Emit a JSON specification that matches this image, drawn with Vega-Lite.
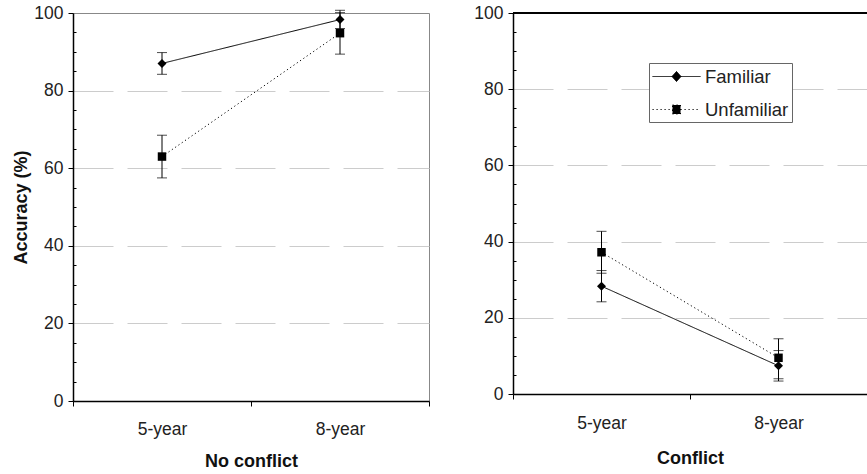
{
  "$schema": "https://vega.github.io/schema/vega-lite/v6.json",
  "padding": {"left": 12, "top": 3, "right": 0, "bottom": 0},
  "background": "white",
  "config": {
    "font": "Liberation Sans",
    "view": {"stroke": null},
    "axis": {"labelFont": "Liberation Sans", "titleFont": "Liberation Sans", "domainWidth": 1.5, "domainColor": "black", "tickColor": "black", "labelColor": "#222", "titleColor": "#111"}
  },
  "datasets": {
    "acc": [
      {"panel": "No conflict", "age": "5-year", "cond": "Familiar", "acc": 87.0, "lo": 84.2, "hi": 89.8},
      {"panel": "No conflict", "age": "8-year", "cond": "Familiar", "acc": 98.3, "lo": 96.0, "hi": 100.7},
      {"panel": "No conflict", "age": "5-year", "cond": "Unfamiliar", "acc": 63.0, "lo": 57.5, "hi": 68.5},
      {"panel": "No conflict", "age": "8-year", "cond": "Unfamiliar", "acc": 94.8, "lo": 89.4, "hi": 100.1},
      {"panel": "Conflict", "age": "5-year", "cond": "Familiar", "acc": 28.3, "lo": 24.2, "hi": 32.4},
      {"panel": "Conflict", "age": "8-year", "cond": "Familiar", "acc": 7.4, "lo": 3.4, "hi": 11.4},
      {"panel": "Conflict", "age": "5-year", "cond": "Unfamiliar", "acc": 37.2, "lo": 31.7, "hi": 42.7},
      {"panel": "Conflict", "age": "8-year", "cond": "Unfamiliar", "acc": 9.5, "lo": 4.0, "hi": 14.5}
    ]
  },
  "spacing": 43,
  "resolve": {"legend": {"strokeDash": "independent"}, "scale": {"y": "independent", "x": "independent"}},
  "hconcat": [
    {
      "width": 356,
      "height": 388,
      "view": {"stroke": "#888", "strokeWidth": 1},
      "data": {"name": "acc"},
      "transform": [{"filter": "datum.panel === 'No conflict'"}],
      "resolve": {"axis": {"x": "independent", "y": "independent"}},
      "encoding": {
        "x": {"field": "age", "type": "nominal", "scale": {"type": "band", "paddingInner": 0, "paddingOuter": 0}, "axis": null},
        "y": {"field": "acc", "type": "quantitative", "scale": {"domain": [0, 100], "nice": false}, "axis": null}
      },
      "layer": [
        {"mark": {"type": "rule", "color": "black", "strokeWidth": 1}, "encoding": {
          "x": {"field": "age", "type": "nominal", "scale": {"type": "band", "paddingInner": 0, "paddingOuter": 0},
            "axis": {"orient": "bottom", "title": "No conflict", "tickBand": "extent", "labelAngle": 0, "labelFontSize": 17.5, "labelPadding": 14, "titleFontSize": 18, "titleFontWeight": "bold", "titlePadding": 15, "tickSize": 5, "grid": false}},
          "y": {"field": "lo", "type": "quantitative", "scale": {"domain": [0, 100], "nice": false},
            "axis": {"orient": "left", "title": "Accuracy (%)", "values": [0,5,10,15,20,25,30,35,40,45,50,55,60,65,70,75,80,85,90,95,100],
              "labelExpr": "datum.value % 20 === 0 ? datum.label : ''",
              "tickSize": {"condition": {"test": "datum.value % 20 === 0", "value": 5}, "value": -3},
              "labelPadding": 5, "labelFontSize": 17.5, "titleFontSize": 18, "titleFontWeight": "bold", "titlePadding": 3,
              "grid": true, "gridDash": [40, 14], "gridColor": "#cccccc",
              "gridOpacity": {"condition": {"test": "datum.value % 20 === 0 && datum.value > 0 && datum.value < 100", "value": 1}, "value": 0}}},
          "y2": {"field": "hi"}, "detail": {"field": "cond", "type": "nominal"}}},
        {"mark": {"type": "tick", "orient": "horizontal", "size": 10, "thickness": 1, "color": "black"}, "encoding": {"y": {"field": "lo", "type": "quantitative", "axis": null}, "detail": {"field": "cond", "type": "nominal"}}},
        {"mark": {"type": "tick", "orient": "horizontal", "size": 10, "thickness": 1, "color": "black"}, "encoding": {"y": {"field": "hi", "type": "quantitative", "axis": null}, "detail": {"field": "cond", "type": "nominal"}}},
        {"mark": {"type": "line", "color": "black", "strokeWidth": 1}, "encoding": {"strokeDash": {"field": "cond", "type": "nominal", "scale": {"domain": ["Familiar", "Unfamiliar"], "range": [[1, 0], [1.2, 2.8]]}, "legend": null}}},
        {"transform": [{"filter": "datum.cond === 'Familiar'"}], "mark": {"type": "point", "shape": "diamond", "filled": true, "color": "black", "opacity": 1, "size": 80}},
        {"transform": [{"filter": "datum.cond === 'Unfamiliar'"}], "mark": {"type": "point", "shape": "square", "filled": true, "color": "black", "opacity": 1, "size": 72}}
      ]
    },
    {
      "width": 354,
      "height": 381,
      "data": {"name": "acc"},
      "transform": [{"filter": "datum.panel === 'Conflict'"}],
      "resolve": {"axis": {"x": "independent", "y": "independent"}},
      "encoding": {
        "x": {"field": "age", "type": "nominal", "scale": {"type": "band", "paddingInner": 0, "paddingOuter": 0}, "axis": null},
        "y": {"field": "acc", "type": "quantitative", "scale": {"domain": [0, 100], "nice": false}, "axis": null}
      },
      "layer": [
        {"mark": {"type": "rule", "color": "black", "strokeWidth": 1.5}, "encoding": {"x": {"value": 0}, "x2": {"value": 354}, "y": {"datum": 100, "type": "quantitative", "axis": null}}},
        {"mark": {"type": "rule", "color": "black", "strokeWidth": 1}, "encoding": {
          "x": {"field": "age", "type": "nominal", "scale": {"type": "band", "paddingInner": 0, "paddingOuter": 0},
            "axis": {"orient": "bottom", "title": "Conflict", "tickBand": "extent", "labelAngle": 0, "labelFontSize": 17.5, "labelPadding": 15, "titleFontSize": 18, "titleFontWeight": "bold", "titlePadding": 18, "tickSize": 5, "grid": false}},
          "y": {"field": "lo", "type": "quantitative", "scale": {"domain": [0, 100], "nice": false},
            "axis": {"orient": "left", "title": null, "values": [0,5,10,15,20,25,30,35,40,45,50,55,60,65,70,75,80,85,90,95,100],
              "labelExpr": "datum.value % 20 === 0 ? datum.label : ''",
              "tickSize": {"condition": {"test": "datum.value % 20 === 0", "value": 5}, "value": -3},
              "labelPadding": 5, "labelFontSize": 17.5,
              "grid": true, "gridDash": [40, 14], "gridColor": "#cccccc",
              "gridOpacity": {"condition": {"test": "datum.value % 20 === 0 && datum.value > 0 && datum.value < 100", "value": 1}, "value": 0}}},
          "y2": {"field": "hi"}, "detail": {"field": "cond", "type": "nominal"}}},
        {"mark": {"type": "tick", "orient": "horizontal", "size": 10, "thickness": 1, "color": "black"}, "encoding": {"y": {"field": "lo", "type": "quantitative", "axis": null}, "detail": {"field": "cond", "type": "nominal"}}},
        {"mark": {"type": "tick", "orient": "horizontal", "size": 10, "thickness": 1, "color": "black"}, "encoding": {"y": {"field": "hi", "type": "quantitative", "axis": null}, "detail": {"field": "cond", "type": "nominal"}}},
        {"mark": {"type": "line", "color": "black", "strokeWidth": 1}, "encoding": {
          "strokeDash": {"field": "cond", "type": "nominal", "scale": {"domain": ["Familiar", "Unfamiliar"], "range": [[1, 0], [1.2, 2.8]]},
          "legend": {"title": null, "orient": "none", "legendX": 136, "legendY": 50, "padding": 3, "strokeColor": "#666", "fillColor": "white", "cornerRadius": 0,
            "labelFontSize": 18.5, "labelFont": "Liberation Sans", "labelColor": "#222", "labelOffset": 18, "symbolOffset": 14,
            "symbolSize": 400, "symbolStrokeWidth": 1, "symbolStrokeColor": "black", "symbolFillColor": "black", "rowPadding": 13,
            "encode": {"symbols": {"update": {"shape": {"signal": "datum.value === 'Familiar' ? 'M-2.4,0L2.4,0M0,-0.5L0.45,0L0,0.5L-0.45,0Z' : 'M-2.4,0L2.4,0M-0.4,-0.45L0.4,-0.45L0.4,0.45L-0.4,0.45Z'"}, "fill": {"value": "black"}, "stroke": {"value": "black"}}}}}}}},
        {"transform": [{"filter": "datum.cond === 'Familiar'"}], "mark": {"type": "point", "shape": "diamond", "filled": true, "color": "black", "opacity": 1, "size": 80}},
        {"transform": [{"filter": "datum.cond === 'Unfamiliar'"}], "mark": {"type": "point", "shape": "square", "filled": true, "color": "black", "opacity": 1, "size": 72}}
      ]
    }
  ]
}
